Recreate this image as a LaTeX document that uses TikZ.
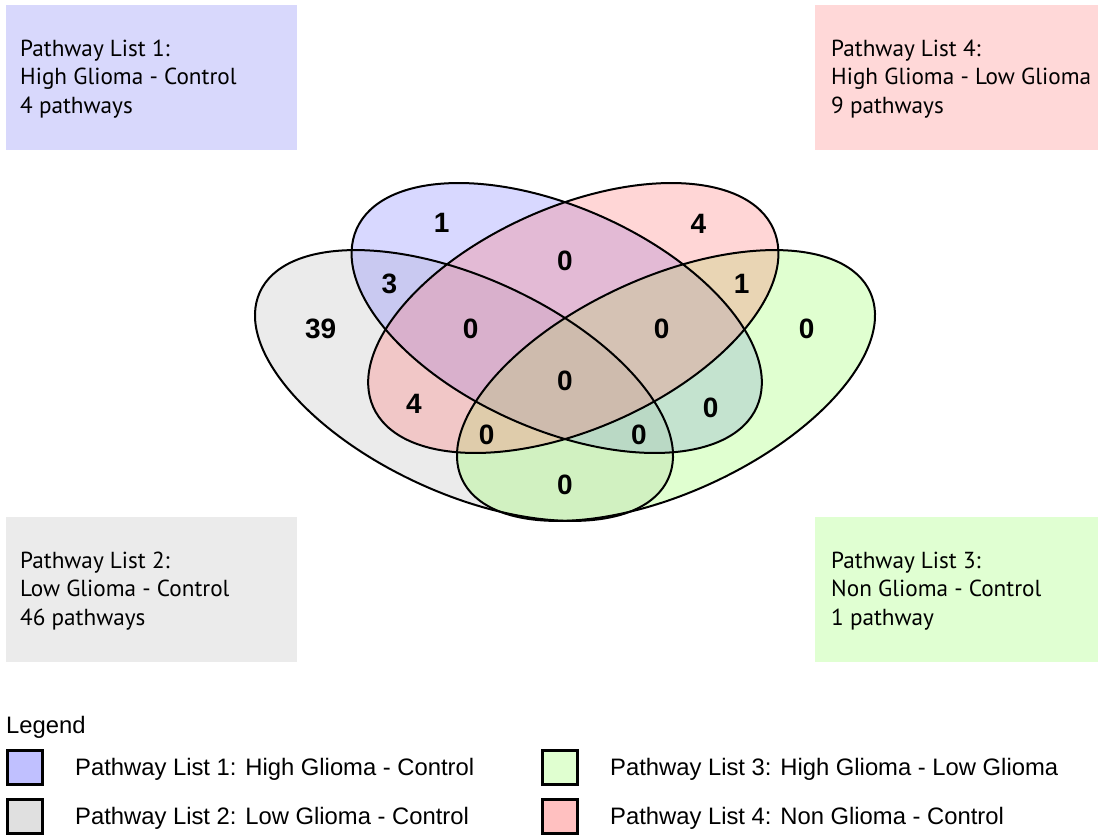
\documentclass[tikz,border=0pt]{standalone}
\usepackage{fontspec}
\setmainfont{Liberation Sans}
\newfontfamily\boxfont{PT Sans}
\definecolor{vblue}{RGB}{125,125,255}
\definecolor{vgray}{RGB}{188,188,188}
\definecolor{vgreen}{RGB}{152,255,98}
\definecolor{vpink}{RGB}{255,118,118}
\definecolor{bblue}{RGB}{216,216,252}
\definecolor{bpink}{RGB}{255,216,216}
\definecolor{bgray}{RGB}{235,235,235}
\definecolor{bgreen}{RGB}{224,255,210}
\definecolor{lblue}{RGB}{192,192,255}
\definecolor{lgray}{RGB}{224,224,224}
\definecolor{lgreen}{RGB}{224,255,208}
\definecolor{lpink}{RGB}{255,192,192}
\begin{document}
\begin{tikzpicture}[x=1pt,y=-1pt,
  vennfill/.style={fill=#1, fill opacity=0.3},
  vennline/.style={draw=black, line width=2pt},
  num/.style={font=\fontsize{28}{28}\selectfont\bfseries, inner sep=0pt},
  infobox/.style={fill=#1, minimum width=291pt, minimum height=145pt, anchor=north west, inner sep=0pt, draw=none},
  infotext/.style={anchor=west, align=left, inner sep=0pt, font=\boxfont\fontsize{23.2}{28.5}\selectfont},
  legsq/.style={fill=#1, draw=black, line width=3pt, minimum width=35pt, minimum height=34pt, inner sep=0pt},
  legtext/.style={anchor=base west, inner sep=0pt, font=\fontsize{23.8}{23.8}\selectfont}
]
\useasboundingbox (0,0) rectangle (1103,835);

% info boxes
\node[infobox=bblue] (b1) at (6,5) {};
\node[infobox=bpink, minimum width=283pt] (b4) at (815,5) {};
\node[infobox=bgray] (b2) at (6,517) {};
\node[infobox=bgreen, minimum width=283pt] (b3) at (815,517) {};
\node[infotext] (t1) at (20,79) {Pathway List 1:\\High Glioma - Control\\4 pathways};
\node[infotext] (t4) at (831,79) {Pathway List 4:\\High Glioma - Low Glioma\\9 pathways};
\node[infotext] (t2) at (20,591) {Pathway List 2:\\Low Glioma - Control\\46 pathways};
\node[infotext] (t3) at (831,591) {Pathway List 3:\\Non Glioma - Control\\1 pathway};

% venn fills
\fill[vennfill=vgray, rotate around={-24.6:(464,385.5)}] (464,385.5) ellipse [x radius=224.5pt, y radius=107.8pt];
\fill[vennfill=vblue, rotate around={-24:(556.7,318)}] (556.7,318) ellipse [x radius=219pt, y radius=111pt];
\fill[vennfill=vgreen, rotate around={24.6:(666,385.5)}] (666,385.5) ellipse [x radius=224.5pt, y radius=107.8pt];
\fill[vennfill=vpink, rotate around={24:(573.3,318)}] (573.3,318) ellipse [x radius=219pt, y radius=111pt];
% venn outlines
\draw[vennline, rotate around={-24.6:(464,385.5)}] (464,385.5) ellipse [x radius=224.5pt, y radius=107.8pt];
\draw[vennline, rotate around={24.6:(666,385.5)}] (666,385.5) ellipse [x radius=224.5pt, y radius=107.8pt];
\draw[vennline, rotate around={-24:(556.7,318)}] (556.7,318) ellipse [x radius=219pt, y radius=111pt];
\draw[vennline, rotate around={24:(573.3,318)}] (573.3,318) ellipse [x radius=219pt, y radius=111pt];

% counts
\node[num] (n1) at (441.7,223.3) {1};
\node[num] (n4a) at (698.3,224) {4};
\node[num] (n3) at (389.3,284.3) {3};
\node[num] (n0a) at (565,261) {0};
\node[num] (n1b) at (741.7,284.3) {1};
\node[num] (n39) at (320.7,329) {39};
\node[num] (n0b) at (470.7,329) {0};
\node[num] (n0c) at (661.7,329) {0};
\node[num] (n0d) at (806.7,329) {0};
\node[num] (n0e) at (565,381) {0};
\node[num] (n4b) at (414,404.3) {4};
\node[num] (n0f) at (710.7,407.7) {0};
\node[num] (n0g) at (486.7,435) {0};
\node[num] (n0h) at (639,435) {0};
\node[num] (n0i) at (565,485) {0};

% legend
\node[legtext] (lg) at (6,733) {Legend};
\node[legsq=lblue] (s1) at (25,767) {};
\node[legsq=lgray] (s2) at (25,816) {};
\node[legsq=lgreen] (s3) at (560,767) {};
\node[legsq=lpink] (s4) at (560,816) {};
\node[legtext] (l1) at (75,775) {Pathway List 1: High Glioma - Control};
\node[legtext] (l2) at (75,824) {Pathway List 2: Low Glioma - Control};
\node[legtext] (l3) at (610,775) {Pathway List 3: High Glioma - Low Glioma};
\node[legtext] (l4) at (610,824) {Pathway List 4: Non Glioma - Control};
\end{tikzpicture}
\end{document}
